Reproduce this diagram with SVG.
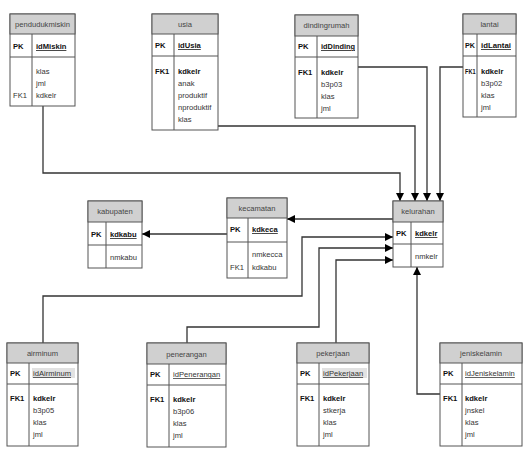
<svg xmlns="http://www.w3.org/2000/svg" width="528" height="457" viewBox="0 0 528 457">
<style>
.box{fill:#fff;stroke:#555;stroke-width:1}
.hd{fill:#d0d0d0;stroke:#555;stroke-width:1}
.ln{stroke:#555;stroke-width:1;fill:none}
text{font-family:"Liberation Sans",Arial,sans-serif;font-size:7.6px;fill:#333}
.t{text-anchor:middle;fill:#444}
.b{font-weight:bold;fill:#111}
.u{text-decoration:underline}
.hl{fill:#e2e2e2}
.c{stroke:#333;stroke-width:1.3;fill:none}
</style>
<defs>
<marker id="ar" viewBox="0 0 10 10" refX="10" refY="5" markerWidth="8" markerHeight="8" markerUnits="userSpaceOnUse" orient="auto">
<path d="M0,0 L10,5 L0,10 z" fill="#000"/>
</marker>
</defs>
<g id="connectors">
<path class="c" d="M43,106 V173 H400 V201" marker-end="url(#ar)"/>
<path class="c" d="M218,126 H415 V201" marker-end="url(#ar)"/>
<path class="c" d="M358,67 H427 V201" marker-end="url(#ar)"/>
<path class="c" d="M463,67 H440 V201" marker-end="url(#ar)"/>
<path class="c" d="M393,219 H287" marker-end="url(#ar)"/>
<path class="c" d="M227,234 H142" marker-end="url(#ar)"/>
<path class="c" d="M43,343 V296 H302 V237 H393" marker-end="url(#ar)"/>
<path class="c" d="M187,343 V327 H319 V248 H393" marker-end="url(#ar)"/>
<path class="c" d="M336,343 V260 H393" marker-end="url(#ar)"/>
<path class="c" d="M440,394 H417 V267" marker-end="url(#ar)"/>
</g>
<g id="pendudukmiskin">
<rect class="box" x="10" y="14" width="65" height="92"/>
<rect class="hd" x="10" y="14" width="65" height="20"/>
<line class="ln" x1="10" y1="57" x2="75" y2="57"/>
<line class="ln" x1="32" y1="34" x2="32" y2="106"/>
<text class="t" x="42.5" y="27">pendudukmiskin</text>
<text class="b" x="13" y="49">PK</text>
<text class="b u" x="36" y="49">idMiskin</text>
<text x="36" y="74">klas</text>
<text x="36" y="86">jml</text>
<text x="13" y="98">FK1</text>
<text x="36" y="98">kdkelr</text>
</g>
<g id="usia">
<rect class="box" x="152" y="14" width="66" height="116"/>
<rect class="hd" x="152" y="14" width="66" height="20"/>
<line class="ln" x1="152" y1="56" x2="218" y2="56"/>
<line class="ln" x1="174" y1="34" x2="174" y2="130"/>
<text class="t" x="185" y="27">usia</text>
<text class="b" x="155" y="48">PK</text>
<text class="b u" x="178" y="48">idUsia</text>
<text class="b" x="155" y="74">FK1</text>
<text class="b" x="178" y="74">kdkelr</text>
<text x="178" y="86">anak</text>
<text x="178" y="98">produktif</text>
<text x="178" y="110">nproduktif</text>
<text x="178" y="122">klas</text>
</g>
<g id="dindingrumah">
<rect class="box" x="295" y="15" width="63" height="103"/>
<rect class="hd" x="295" y="15" width="63" height="21"/>
<line class="ln" x1="295" y1="57" x2="358" y2="57"/>
<line class="ln" x1="317" y1="36" x2="317" y2="118"/>
<text class="t" x="326.5" y="28">dindingrumah</text>
<text class="b" x="298" y="49">PK</text>
<text class="b u" x="321" y="49" textLength="34" lengthAdjust="spacingAndGlyphs">idDinding</text>
<text class="b" x="298" y="75">FK1</text>
<text class="b" x="321" y="75">kdkelr</text>
<text x="321" y="87">b3p03</text>
<text x="321" y="99">klas</text>
<text x="321" y="111">jml</text>
</g>
<g id="lantai">
<rect class="box" x="463" y="14" width="53" height="103"/>
<rect class="hd" x="463" y="14" width="53" height="20"/>
<line class="ln" x1="463" y1="56" x2="516" y2="56"/>
<line class="ln" x1="477" y1="34" x2="477" y2="117"/>
<text class="t" x="489.5" y="27">lantai</text>
<text class="b" x="465" y="48" textLength="10" lengthAdjust="spacingAndGlyphs">PK</text>
<text class="b u" x="481" y="48" textLength="30" lengthAdjust="spacingAndGlyphs">idLantai</text>
<text class="b" x="465" y="74" textLength="10.5" lengthAdjust="spacingAndGlyphs">FK1</text>
<text class="b" x="481" y="74">kdkelr</text>
<text x="481" y="86">b3p02</text>
<text x="481" y="98">klas</text>
<text x="481" y="110">jml</text>
</g>
<g id="kabupaten">
<rect class="box" x="88" y="201" width="54" height="67"/>
<rect class="hd" x="88" y="201" width="54" height="21"/>
<line class="ln" x1="88" y1="245" x2="142" y2="245"/>
<line class="ln" x1="106" y1="222" x2="106" y2="268"/>
<text class="t" x="115" y="214">kabupaten</text>
<text class="b" x="91" y="237">PK</text>
<text class="b u" x="110" y="237">kdkabu</text>
<text x="110" y="260">nmkabu</text>
</g>
<g id="kecamatan">
<rect class="box" x="227" y="198" width="60" height="80"/>
<rect class="hd" x="227" y="198" width="60" height="20"/>
<line class="ln" x1="227" y1="242" x2="287" y2="242"/>
<line class="ln" x1="248" y1="218" x2="248" y2="278"/>
<text class="t" x="257" y="211">kecamatan</text>
<text class="b" x="230" y="232">PK</text>
<text class="b u" x="252" y="232">kdkeca</text>
<text x="252" y="257">nmkecca</text>
<text x="230" y="270">FK1</text>
<text x="252" y="270">kdkabu</text>
</g>
<g id="kelurahan">
<rect class="box" x="393" y="201" width="50" height="66"/>
<rect class="hd" x="393" y="201" width="50" height="21"/>
<line class="ln" x1="393" y1="244" x2="443" y2="244"/>
<line class="ln" x1="411" y1="222" x2="411" y2="267"/>
<text class="t" x="418" y="214">kelurahan</text>
<text class="b" x="396" y="236">PK</text>
<text class="b u" x="415" y="236">kdkelr</text>
<text x="415" y="259">nmkelr</text>
</g>
<g id="airminum">
<rect class="box" x="7" y="343" width="71" height="103"/>
<rect class="hd" x="7" y="343" width="71" height="20"/>
<line class="ln" x1="7" y1="384" x2="78" y2="384"/>
<line class="ln" x1="29" y1="363" x2="29" y2="446"/>
<text class="t" x="42.5" y="356">airminum</text>
<rect class="hl" x="32" y="368" width="43" height="10"/>
<text class="b" x="10" y="376">PK</text>
<text class="u" x="33" y="376">idAirminum</text>
<text class="b" x="10" y="401">FK1</text>
<text class="b" x="33" y="401">kdkelr</text>
<text x="33" y="413">b3p05</text>
<text x="33" y="425">klas</text>
<text x="33" y="437">jml</text>
</g>
<g id="penerangan">
<rect class="box" x="147" y="343" width="79" height="104"/>
<rect class="hd" x="147" y="343" width="79" height="21"/>
<line class="ln" x1="147" y1="385" x2="226" y2="385"/>
<line class="ln" x1="169" y1="364" x2="169" y2="447"/>
<text class="t" x="186.5" y="357">penerangan</text>
<text class="b" x="150" y="377">PK</text>
<text class="u" x="173" y="377">idPenerangan</text>
<text class="b" x="150" y="402">FK1</text>
<text class="b" x="173" y="402">kdkelr</text>
<text x="173" y="414">b3p06</text>
<text x="173" y="426">klas</text>
<text x="173" y="438">jml</text>
</g>
<g id="pekerjaan">
<rect class="box" x="297" y="343" width="72" height="103"/>
<rect class="hd" x="297" y="343" width="72" height="20"/>
<line class="ln" x1="297" y1="384" x2="369" y2="384"/>
<line class="ln" x1="319" y1="363" x2="319" y2="446"/>
<text class="t" x="333" y="356">pekerjaan</text>
<rect class="hl" x="322" y="368" width="45" height="10"/>
<text class="b" x="300" y="376">PK</text>
<text class="u" x="323" y="376">idPekerjaan</text>
<text class="b" x="300" y="401">FK1</text>
<text class="b" x="323" y="401">kdkelr</text>
<text x="323" y="413">stkerja</text>
<text x="323" y="425">klas</text>
<text x="323" y="437">jml</text>
</g>
<g id="jeniskelamin">
<rect class="box" x="440" y="343" width="82" height="103"/>
<rect class="hd" x="440" y="343" width="82" height="20"/>
<line class="ln" x1="440" y1="384" x2="522" y2="384"/>
<line class="ln" x1="462" y1="363" x2="462" y2="446"/>
<text class="t" x="481" y="356">jeniskelamin</text>
<text class="b" x="443" y="376">PK</text>
<text class="u" x="465" y="376">idJeniskelamin</text>
<text class="b" x="443" y="401">FK1</text>
<text class="b" x="465" y="401">kdkelr</text>
<text x="465" y="413">jnskel</text>
<text x="465" y="425">klas</text>
<text x="465" y="437">jml</text>
</g>
</svg>
